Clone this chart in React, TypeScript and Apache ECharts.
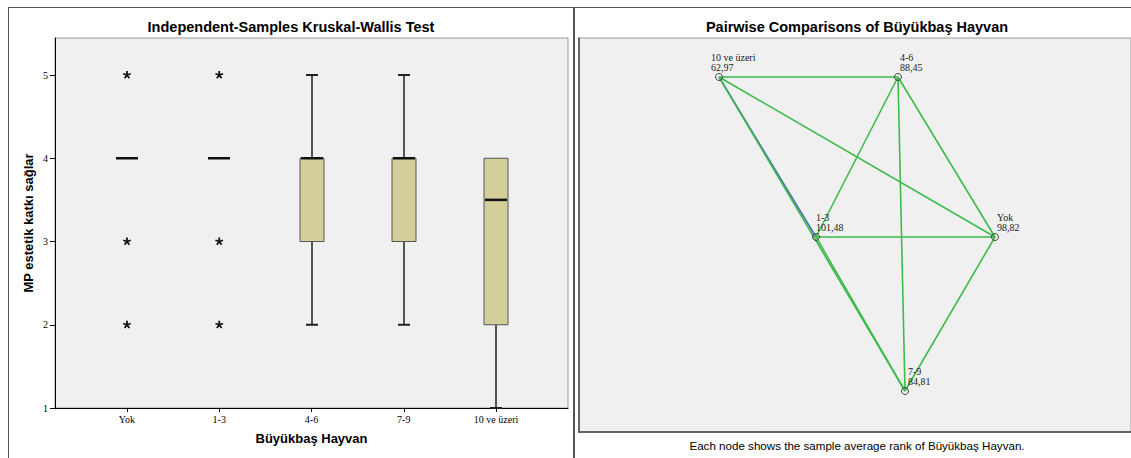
import React, { useEffect, useRef } from "react";
import * as echarts from "echarts";

// ---- Data ----
const categories = ["Yok", "1-3", "4-6", "7-9", "10 ve üzeri"];
// [min, q1, median, q3, max]
const boxMin = [4, 4, 2, 2, 1];
const boxQ1 = [4, 4, 3, 3, 2];
const boxMedian = [4, 4, 4, 4, 3.5];
const boxQ3 = [4, 4, 4, 4, 4];
const boxMax = [4, 4, 5, 5, 4];
// extreme values (category index, value)
const outlierCat = [0, 0, 0, 1, 1, 1];
const outlierVal = [5, 3, 2, 5, 3, 2];
const yTicks = [1, 2, 3, 4, 5];

const nodeNames = ["10 ve üzeri", "4-6", "1-3", "Yok", "7-9"];
const nodeRanks = ["62,97", "88,45", "101,48", "98,82", "84,81"];
// layout positions of the nodes in the network diagram
const nodeLayoutX = [140, 319, 237, 416, 326];
const nodeLayoutY = [39, 39, 199, 199, 353];
const nodeLabelShift = [-8, 2, 0, 2, 3];
const linkSource = [0, 0, 0, 0, 1, 1, 1, 2, 2, 3];
const linkTarget = [1, 2, 3, 4, 2, 3, 4, 3, 4, 4];
const linkBlue = [false, true, false, false, false, false, false, false, false, false];

const SANS = "Liberation Sans, Arial, sans-serif";
const SERIF = "Liberation Serif, Times New Roman, serif";

export default function App() {
  const ref = useRef<HTMLDivElement>(null);
  useEffect(() => {
    if (!ref.current) return;
    const chart = echarts.init(ref.current, null, { renderer: "svg" });

    const boxData = categories.map((_, i) => [i, boxMin[i], boxQ1[i], boxMedian[i], boxQ3[i], boxMax[i]]);
    const outData = outlierCat.map((c, i) => [c, outlierVal[i]]);

    const option: any = {
      animation: false,
      backgroundColor: "#ffffff",
      graphic: [
        { type: "line", shape: { x1: 8, y1: 7.5, x2: 1131, y2: 7.5 }, style: { stroke: "#555", lineWidth: 1 }, z: 100 },
        { type: "line", shape: { x1: 8.5, y1: 7, x2: 8.5, y2: 458 }, style: { stroke: "#555", lineWidth: 1 }, z: 100 },
        { type: "line", shape: { x1: 574, y1: 7, x2: 574, y2: 458 }, style: { stroke: "#555", lineWidth: 2 }, z: 100 },
        {
          type: "text", x: 291, y: 27,
          style: { text: "Independent-Samples Kruskal-Wallis Test", font: `bold 14.5px ${SANS}`, fill: "#000", align: "center", verticalAlign: "middle" },
        },
        {
          type: "text", x: 857, y: 27,
          style: { text: "Pairwise Comparisons of Büyükbaş Hayvan", font: `bold 14.5px ${SANS}`, fill: "#000", align: "center", verticalAlign: "middle" },
        },
        {
          type: "text", x: 857, y: 445,
          style: { text: "Each node shows the sample average rank of Büyükbaş Hayvan.", font: `11.6px ${SANS}`, fill: "#000", align: "center", verticalAlign: "middle" },
        },
      ],
      grid: [
        { left: 55, top: 38, width: 513, height: 370, show: true, backgroundColor: "#f0f0f0", borderColor: "#9a9a9a", borderWidth: 1 },
        { left: 579, top: 38, width: 552, height: 394, show: true, backgroundColor: "#f0f0f0", borderColor: "#9a9a9a", borderWidth: 1 },
      ],
      xAxis: [
        {
          type: "value", gridIndex: 0, min: -0.78, max: 4.78,
          name: "Büyükbaş Hayvan", nameLocation: "middle", nameGap: 24,
          nameTextStyle: { fontFamily: SANS, fontWeight: "bold", fontSize: 13, color: "#000" },
          axisLine: { show: true, onZero: false, lineStyle: { color: "#000", width: 1 } },
          axisTick: { show: true, customValues: [0, 1, 2, 3, 4], length: 4, lineStyle: { color: "#000" } },
          axisLabel: {
            customValues: [0, 1, 2, 3, 4],
            formatter: (v: number) => categories[Math.round(v)] ?? "",
            fontFamily: SERIF, fontSize: 10, color: "#000", margin: 6,
          },
          splitLine: { show: false },
        },
        {
          type: "value", gridIndex: 1, min: 0, max: 552,
          axisLine: { show: true, onZero: false, lineStyle: { color: "#444", width: 1.5 } },
          axisTick: { show: false }, axisLabel: { show: false }, splitLine: { show: false },
        },
      ],
      yAxis: [
        {
          type: "value", gridIndex: 0, min: 1, max: 1 + 370 / 83.25,
          name: "MP estetik katkı sağlar", nameLocation: "middle", nameGap: 20, nameRotate: 90,
          nameTextStyle: { fontFamily: SANS, fontWeight: "bold", fontSize: 13, color: "#000" },
          axisLine: { show: true, onZero: false, lineStyle: { color: "#000", width: 1 } },
          axisTick: { show: true, customValues: yTicks, length: 5, lineStyle: { color: "#000" } },
          axisLabel: { customValues: yTicks, fontFamily: SERIF, fontSize: 10, color: "#000", margin: 7 },
          splitLine: { show: false },
        },
        {
          type: "value", gridIndex: 1, min: 0, max: 394, inverse: true,
          axisLine: { show: true, onZero: false, lineStyle: { color: "#444", width: 1.5 } },
          axisTick: { show: false }, axisLabel: { show: false }, splitLine: { show: false },
        },
      ],
      series: [
        {
          type: "custom",
          xAxisIndex: 0, yAxisIndex: 0,
          silent: true,
          data: boxData,
          encode: { x: 0, y: [1, 2, 3, 4, 5] },
          renderItem: (_p: any, api: any) => {
            const idx = api.value(0);
            const mn = api.value(1), q1 = api.value(2), md = api.value(3), q3 = api.value(4), mx = api.value(5);
            const cx = Math.round(api.coord([idx, md])[0]);
            const y = (v: number) => api.coord([idx, v])[1];
            const children: any[] = [];
            const bw = 24, cw = 12, mw = 22;
            const lineStyle = { stroke: "#222", lineWidth: 1.5 };
            if (mn < q1) {
              children.push({ type: "line", shape: { x1: cx, y1: y(q1), x2: cx, y2: y(mn) }, style: lineStyle });
              children.push({ type: "line", shape: { x1: cx - cw / 2, y1: y(mn), x2: cx + cw / 2, y2: y(mn) }, style: { stroke: "#222", lineWidth: 2 } });
            }
            if (mx > q3) {
              children.push({ type: "line", shape: { x1: cx, y1: y(q3), x2: cx, y2: y(mx) }, style: lineStyle });
              children.push({ type: "line", shape: { x1: cx - cw / 2, y1: y(mx), x2: cx + cw / 2, y2: y(mx) }, style: { stroke: "#222", lineWidth: 2 } });
            }
            if (q3 > q1) {
              children.push({
                type: "rect",
                shape: { x: cx - bw / 2, y: y(q3), width: bw, height: y(q1) - y(q3) },
                style: { fill: "#d4cf9a", stroke: "#555", lineWidth: 1 },
              });
            }
            children.push({ type: "line", shape: { x1: cx - mw / 2, y1: y(md), x2: cx + mw / 2, y2: y(md) }, style: { stroke: "#111", lineWidth: 2.5 } });
            return { type: "group", children };
          },
        },
        {
          type: "custom",
          xAxisIndex: 0, yAxisIndex: 0,
          silent: true,
          data: outData,
          encode: { x: 0, y: 1 },
          renderItem: (_p: any, api: any) => {
            const [cx, cy] = api.coord([api.value(0), api.value(1)]);
            const r = 4;
            const st = { stroke: "#111", lineWidth: 1.8 };
            const children: any[] = [];
            for (let k = 0; k < 5; k++) {
              const a = -Math.PI / 2 + (k * 2 * Math.PI) / 5;
              children.push({ type: "line", shape: { x1: cx, y1: cy, x2: cx + r * Math.cos(a), y2: cy + r * Math.sin(a) }, style: st });
            }
            return { type: "group", children };
          },
        },
        {
          type: "graph",
          coordinateSystem: "cartesian2d",
          xAxisIndex: 1, yAxisIndex: 1,
          silent: true,
          symbol: "circle",
          symbolSize: 7,
          itemStyle: { color: "rgba(0,0,0,0)", borderColor: "#444", borderWidth: 1 },
          lineStyle: { width: 1.6, opacity: 1, curveness: 0 },
          emphasis: { disabled: true },
          data: nodeNames.map((n, i) => ({
            name: n,
            value: [nodeLayoutX[i], nodeLayoutY[i]],
            label: { offset: [nodeLabelShift[i], 0] },
          })),
          links: linkSource.map((s, i) => ({
            source: nodeNames[s],
            target: nodeNames[linkTarget[i]],
            lineStyle: { color: linkBlue[i] ? "#4a6cb3" : "#3dbb4b" },
          })),
          label: {
            show: true,
            position: "top",
            align: "left",
            verticalAlign: "bottom",
            distance: 1,
            fontFamily: SERIF,
            fontSize: 10,
            lineHeight: 10,
            color: "#222",
            formatter: (p: any) => `${p.name}\n${nodeRanks[p.dataIndex]}`,
          },
          z: 3,
        },
      ],
    };
    chart.setOption(option);
    return () => chart.dispose();
  }, []);
  return <div ref={ref} style={{ position: "fixed", left: 0, top: 0, width: 1131, height: 458 }} />;
}
